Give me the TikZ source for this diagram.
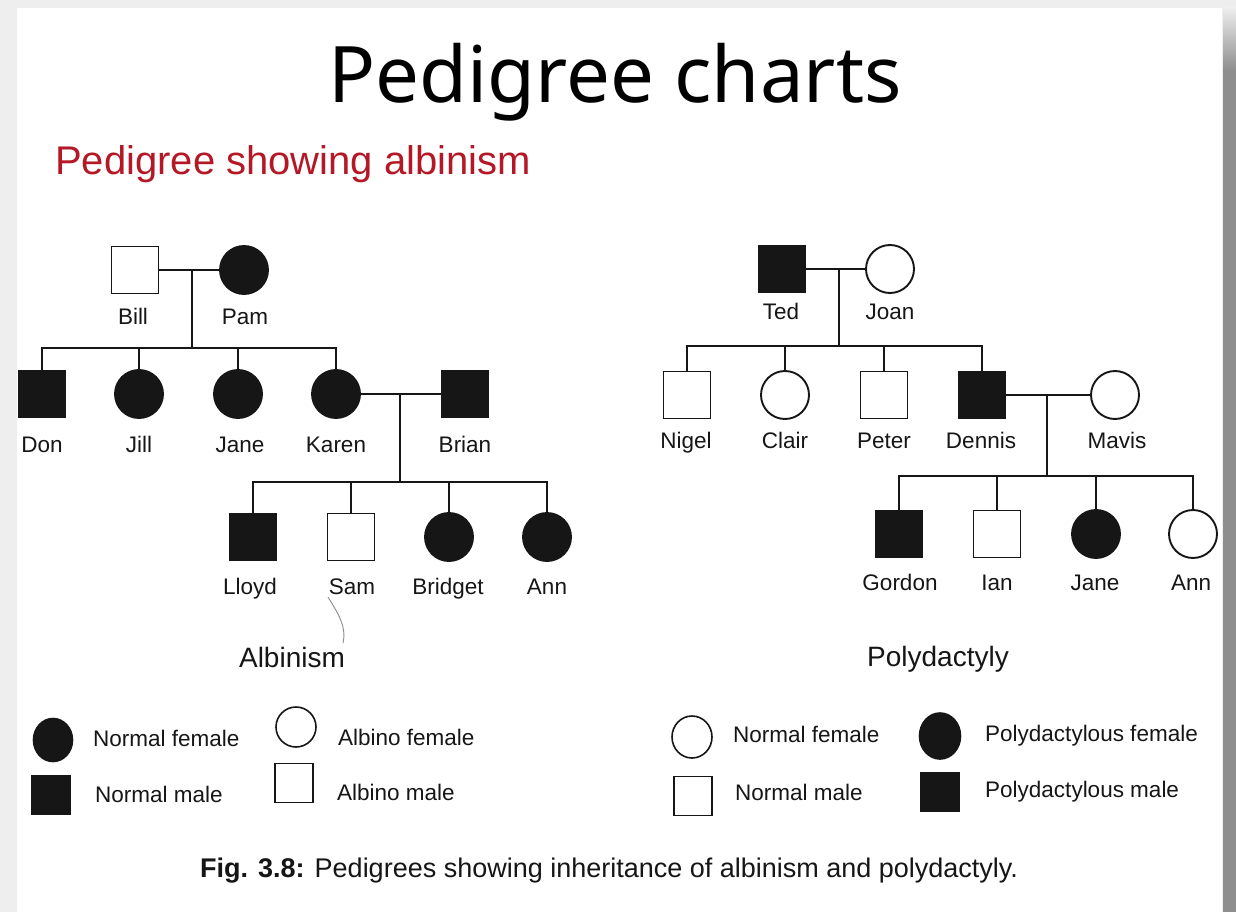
\documentclass[tikz,border=0pt]{standalone}
\usepackage{fontspec}
\setmainfont{Liberation Sans}
\newfontfamily\headfont{Noto Sans}
\usetikzlibrary{calc,shapes.geometric}

\definecolor{ink}{RGB}{22,22,22}
\definecolor{subred}{RGB}{180,24,38}
\definecolor{frame}{RGB}{238,238,238}
\definecolor{edge}{RGB}{142,142,142}

\tikzset{
  male/.style={draw=ink, line width=1.9pt, rectangle, minimum size=47pt, inner sep=0pt, fill=white},
  female/.style={draw=ink, line width=1.9pt, circle, minimum size=48pt, inner sep=0pt, fill=white},
  aff/.style={fill=ink},
  link/.style={draw=ink, line width=1.9pt, line join=miter},
  lab/.style={anchor=base, inner sep=0pt, text=ink, font=\fontsize{22.5}{27}\selectfont},
  keytext/.style={anchor=base west, inner sep=0pt, text=ink, font=\fontsize{22.5}{27}\selectfont},
  keymale/.style={draw=ink, line width=1.6pt, rectangle, minimum width=38pt, minimum height=39pt, inner sep=0pt},
  keyfemale/.style={draw=ink, line width=1.6pt, ellipse, minimum width=39pt, minimum height=43pt, inner sep=0pt},
  heading/.style={anchor=base, inner sep=0pt, text=ink, font=\fontsize{28}{32}\selectfont},
}

\begin{document}
\begin{tikzpicture}[x=1pt,y=-1pt]
\useasboundingbox (0,0) rectangle (1236,912);

% slide background and its frame
\fill[frame] (0,0) rectangle (1236,912);
\fill[white] (17,8) rectangle (1222,912);
\fill[edge] (1223,70) rectangle (1236,912);
\shade[top color=frame, bottom color=edge] (1223,8) rectangle (1236,70);

% titles
\node[anchor=base, inner sep=0pt, font=\headfont\fontsize{78}{82}\selectfont] (title) at (615,103) {Pedigree charts};
\node[anchor=base west, inner sep=0pt, text=subred, font=\fontsize{40}{44}\selectfont] (sub) at (55,175) {Pedigree showing albinism};

\begin{scope}
\clip (17,8) rectangle (1222,912);

% ---------- albinism pedigree ----------
\node[male] (bill) at (135,270) {};
\node[female,aff] (pam) at (244,270) {};
\coordinate (lk1) at (192,270);
\coordinate (sb1) at (192,348);
\node[male,aff] (don) at (42,394) {};
\node[female,aff] (jill) at (139,394) {};
\node[female,aff] (jane) at (238,394) {};
\node[female,aff] (karen) at (336,394) {};
\node[male,aff] (brian) at (465,394) {};
\coordinate (lk2) at (400,394);
\coordinate (sb2) at (400,482);
\node[male,aff] (lloyd) at (253,537) {};
\node[male] (sam) at (351,537) {};
\node[female,aff] (bridget) at (449,537) {};
\node[female,aff] (ann) at (547,537) {};

\draw[link] (bill) -- (pam);
\draw[link] (lk1) -- (sb1);
\draw[link] (don) -- (don |- sb1) -- (karen |- sb1) -- (karen);
\foreach \k in {jill,jane} \draw[link] (\k |- sb1) -- (\k);
\draw[link] (karen) -- (brian);
\draw[link] (lk2) -- (sb2);
\draw[link] (lloyd) -- (lloyd |- sb2) -- (ann |- sb2) -- (ann);
\foreach \k in {sam,bridget} \draw[link] (\k |- sb2) -- (\k);

\node[lab] (billL) at (133,324) {Bill};
\node[lab] (pamL) at (245,324) {Pam};
\node[lab] (donL) at (42,452) {Don};
\node[lab] (jillL) at (139,452) {Jill};
\node[lab] (janeL) at (240,452) {Jane};
\node[lab] (karenL) at (336,452) {Karen};
\node[lab] (brianL) at (465,452) {Brian};
\node[lab] (lloydL) at (250,594) {Lloyd};
\node[lab] (samL) at (352,594) {Sam};
\node[lab] (bridgetL) at (448,594) {Bridget};
\node[lab] (annL) at (547,594) {Ann};
\node[heading] (albL) at (292,667) {Albinism};

% pen stroke under Sam
\draw[black!45, line width=0.9pt] (328,597) .. controls (337,612) and (347,626) .. (343,643);

% ---------- polydactyly pedigree ----------
\node[male,aff] (ted) at (782,269) {};
\node[female] (joan) at (890,269) {};
\coordinate (lk3) at (839,269);
\coordinate (sb3) at (839,346);
\node[male] (nigel) at (687,395) {};
\node[female] (clair) at (785,395) {};
\node[male] (peter) at (884,395) {};
\node[male,aff] (dennis) at (982,395) {};
\node[female] (mavis) at (1115,395) {};
\coordinate (lk4) at (1047,395);
\coordinate (sb4) at (1047,476);
\node[male,aff] (gordon) at (899,534) {};
\node[male] (ian) at (997,534) {};
\node[female,aff] (jane2) at (1096,534) {};
\node[female] (ann2) at (1193,534) {};

\draw[link] (ted) -- (joan);
\draw[link] (lk3) -- (sb3);
\draw[link] (nigel) -- (nigel |- sb3) -- (dennis |- sb3) -- (dennis);
\foreach \k in {clair,peter} \draw[link] (\k |- sb3) -- (\k);
\draw[link] (dennis) -- (mavis);
\draw[link] (lk4) -- (sb4);
\draw[link] (gordon) -- (gordon |- sb4) -- (ann2 |- sb4) -- (ann2);
\foreach \k in {ian,jane2} \draw[link] (\k |- sb4) -- (\k);

\node[lab] (tedL) at (781,319) {Ted};
\node[lab] (joanL) at (890,319) {Joan};
\node[lab] (nigelL) at (686,448) {Nigel};
\node[lab] (clairL) at (785,448) {Clair};
\node[lab] (peterL) at (884,448) {Peter};
\node[lab] (dennisL) at (981,448) {Dennis};
\node[lab] (mavisL) at (1117,448) {Mavis};
\node[lab] (gordonL) at (900,590) {Gordon};
\node[lab] (ianL) at (997,590) {Ian};
\node[lab] (jane2L) at (1095,590) {Jane};
\node[lab] (ann2L) at (1191,590) {Ann};
\node[heading] (polyL) at (938,666) {Polydactyly};

% ---------- keys ----------
\node[keyfemale, fill=ink] (k1) at (53,740) {};
\node[keytext] (k1t) at (93,746) {Normal female};
\node[keyfemale, minimum width=40pt, minimum height=40pt] (k2) at (296,727) {};
\node[keytext] (k2t) at (338,745) {Albino female};
\node[keymale, fill=ink] (k3) at (51,795) {};
\node[keytext] (k3t) at (95,802) {Normal male};
\node[keymale] (k4) at (294,783) {};
\node[keytext] (k4t) at (337,800) {Albino male};

\node[keyfemale, minimum width=40pt, minimum height=42pt] (k5) at (692,737) {};
\node[keytext] (k5t) at (733,742) {Normal female};
\node[keyfemale, fill=ink, minimum width=41pt, minimum height=46pt] (k6) at (940,736) {};
\node[keytext] (k6t) at (985,741) {Polydactylous female};
\node[keymale] (k7) at (693,796) {};
\node[keytext] (k7t) at (735,800) {Normal male};
\node[keymale, fill=ink] (k8) at (940,792) {};
\node[keytext] (k8t) at (985,797) {Polydactylous male};

% caption
\node[anchor=base west, inner sep=0pt, text=ink, font=\fontsize{27}{30}\selectfont] (cap) at (200,877) {\textbf{Fig. 3.8:} Pedigrees showing inheritance of albinism and polydactyly.};
\end{scope}
\end{tikzpicture}
\end{document}
